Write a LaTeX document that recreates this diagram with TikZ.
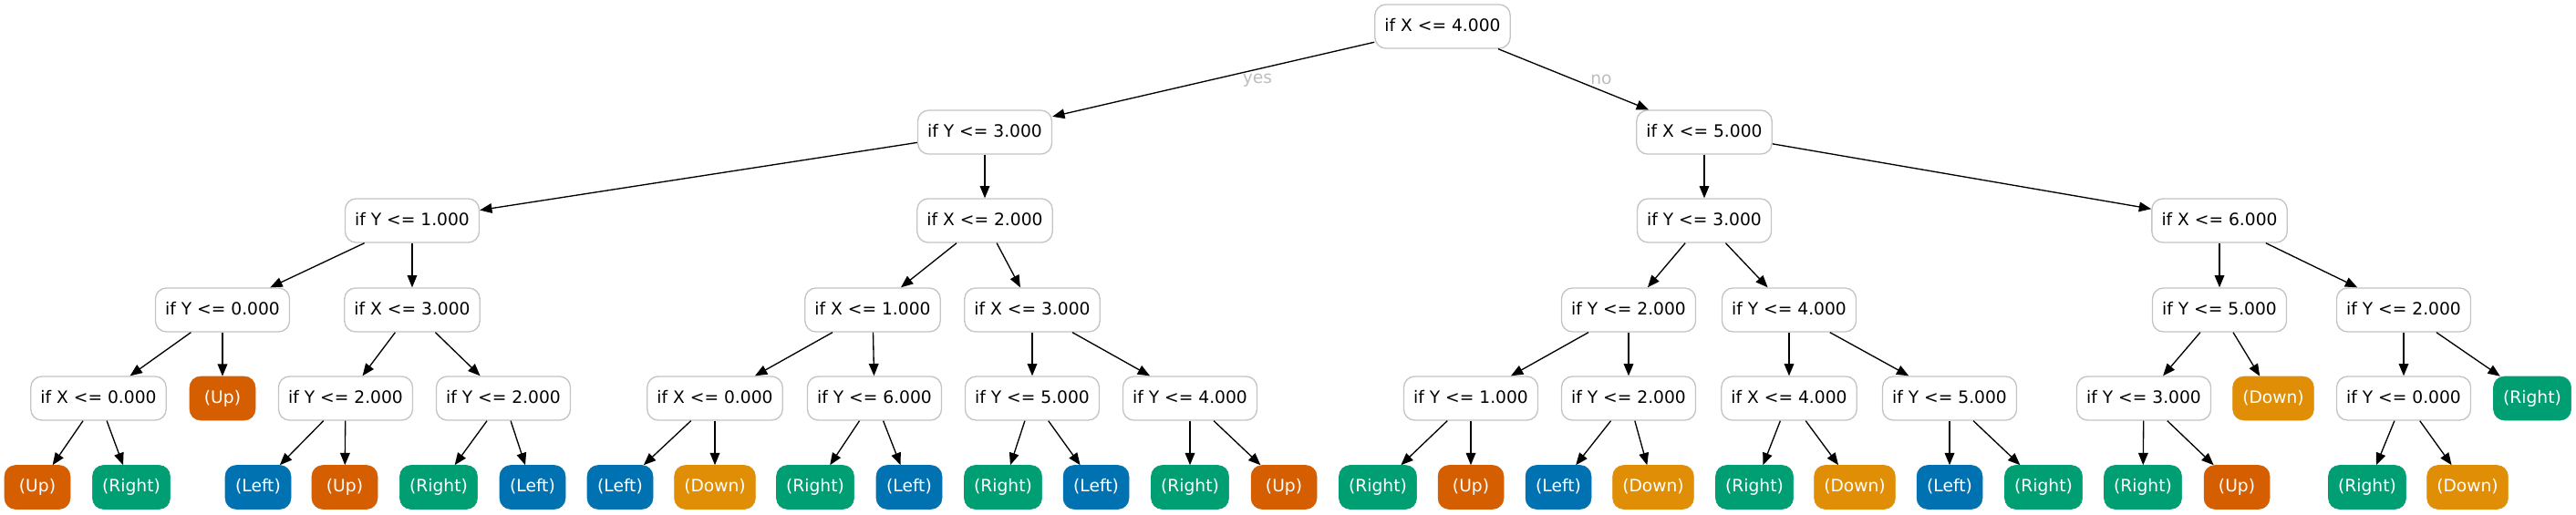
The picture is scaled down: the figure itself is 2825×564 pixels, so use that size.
\documentclass[tikz,border=0pt]{standalone}
\usepackage{fontspec}
\setmainfont{DejaVu Sans}
\usetikzlibrary{arrows.meta}
\definecolor{cUp}{HTML}{D55E00}
\definecolor{cRight}{HTML}{009E73}
\definecolor{cLeft}{HTML}{0072B2}
\definecolor{cDown}{HTML}{DF8E05}
\definecolor{boxgray}{HTML}{C4C4C4}
\definecolor{labgray}{HTML}{BDBDBD}
\begin{document}
\begin{tikzpicture}[x=0.75pt,y=-0.75pt,
  box/.style={rounded corners=9pt, minimum height=36pt, minimum width=54pt,
    inner xsep=8pt, inner ysep=0pt, text height=10.5pt, text depth=3pt,
    font=\fontsize{14pt}{17pt}\selectfont},
  dec/.style={box, draw=boxgray, line width=1pt, fill=white},
  lUp/.style={box, fill=cUp, draw=cUp, text=white},
  lRight/.style={box, fill=cRight, draw=cRight, text=white},
  lLeft/.style={box, fill=cLeft, draw=cLeft, text=white},
  lDown/.style={box, fill=cDown, draw=cDown, text=white},
  conn/.style={-{Triangle[length=10pt,width=8pt]}, line width=1pt, black},
  elab/.style={text=labgray, font=\fontsize{14pt}{17pt}\selectfont, inner sep=0pt}]
\useasboundingbox (0,0) rectangle (2825,564);

% level 0
\node[dec] (r) at (1582,29) {if X <= 4.000};
% level 1
\node[dec] (a1) at (1080,145) {if Y <= 3.000};
\node[dec] (b1) at (1869,145) {if X <= 5.000};
% level 2
\node[dec] (a2) at (452,242) {if Y <= 1.000};
\node[dec] (b2) at (1080,242) {if X <= 2.000};
\node[dec] (c2) at (1869,242) {if Y <= 3.000};
\node[dec] (d2) at (2434,242) {if X <= 6.000};
% level 3
\node[dec] (a3) at (244,340) {if Y <= 0.000};
\node[dec] (b3) at (452,340) {if X <= 3.000};
\node[dec] (c3) at (957,340) {if X <= 1.000};
\node[dec] (d3) at (1132,340) {if X <= 3.000};
\node[dec] (e3) at (1786,340) {if Y <= 2.000};
\node[dec] (f3) at (1962,340) {if Y <= 4.000};
\node[dec] (g3) at (2434,340) {if Y <= 5.000};
\node[dec] (h3) at (2636,340) {if Y <= 2.000};
% level 4
\node[dec] (a4) at (108,437) {if X <= 0.000};
\node[lUp] (b4) at (244,437) {(Up)};
\node[dec] (c4) at (379,437) {if Y <= 2.000};
\node[dec] (d4) at (552,437) {if Y <= 2.000};
\node[dec] (e4) at (784,437) {if X <= 0.000};
\node[dec] (f4) at (959,437) {if Y <= 6.000};
\node[dec] (g4) at (1132,437) {if Y <= 5.000};
\node[dec] (h4) at (1305,437) {if Y <= 4.000};
\node[dec] (i4) at (1613,437) {if Y <= 1.000};
\node[dec] (j4) at (1786,437) {if Y <= 2.000};
\node[dec] (k4) at (1962,437) {if X <= 4.000};
\node[dec] (l4) at (2138,437) {if Y <= 5.000};
\node[dec] (m4) at (2351,437) {if Y <= 3.000};
\node[lDown] (n4) at (2493,437) {(Down)};
\node[dec] (o4) at (2636,437) {if Y <= 0.000};
\node[lRight] (p4) at (2777,437) {(Right)};
% level 5
\node[lUp] (a5) at (41,534.5) {(Up)};
\node[lRight] (b5) at (144,534.5) {(Right)};
\node[lLeft] (c5) at (283,534.5) {(Left)};
\node[lUp] (d5) at (378,534.5) {(Up)};
\node[lRight] (e5) at (481,534.5) {(Right)};
\node[lLeft] (f5) at (584,534.5) {(Left)};
\node[lLeft] (g5) at (680,534.5) {(Left)};
\node[lDown] (h5) at (784,534.5) {(Down)};
\node[lRight] (i5) at (894,534.5) {(Right)};
\node[lLeft] (j5) at (997,534.5) {(Left)};
\node[lRight] (k5) at (1100,534.5) {(Right)};
\node[lLeft] (l5) at (1202,534.5) {(Left)};
\node[lRight] (m5) at (1305,534.5) {(Right)};
\node[lUp] (n5) at (1408,534.5) {(Up)};
\node[lRight] (o5) at (1511,534.5) {(Right)};
\node[lUp] (p5) at (1613,534.5) {(Up)};
\node[lLeft] (q5) at (1709,534.5) {(Left)};
\node[lDown] (r5) at (1813,534.5) {(Down)};
\node[lRight] (s5) at (1924,534.5) {(Right)};
\node[lDown] (t5) at (2034,534.5) {(Down)};
\node[lLeft] (u5) at (2138,534.5) {(Left)};
\node[lRight] (v5) at (2241,534.5) {(Right)};
\node[lRight] (w5) at (2350,534.5) {(Right)};
\node[lUp] (x5) at (2453,534.5) {(Up)};
\node[lRight] (y5) at (2596,534.5) {(Right)};
\node[lDown] (z5) at (2706,534.5) {(Down)};

% edge labels
\node[elab] (yes) at (1379,88) {yes};
\node[elab] (no) at (1756,87) {no};

% connectors
\draw[conn] (r) -- (a1);
\draw[conn] (r) -- (b1);
\draw[conn] (a1) -- (a2);
\draw[conn] (a1) -- (b2);
\draw[conn] (b1) -- (c2);
\draw[conn] (b1) -- (d2);
\draw[conn] (a2) -- (a3);
\draw[conn] (a2) -- (b3);
\draw[conn] (b2) -- (c3);
\draw[conn] (b2) -- (d3);
\draw[conn] (c2) -- (e3);
\draw[conn] (c2) -- (f3);
\draw[conn] (d2) -- (g3);
\draw[conn] (d2) -- (h3);
\draw[conn] (a3) -- (a4);
\draw[conn] (a3) -- (b4);
\draw[conn] (b3) -- (c4);
\draw[conn] (b3) -- (d4);
\draw[conn] (c3) -- (e4);
\draw[conn] (c3) -- (f4);
\draw[conn] (d3) -- (g4);
\draw[conn] (d3) -- (h4);
\draw[conn] (e3) -- (i4);
\draw[conn] (e3) -- (j4);
\draw[conn] (f3) -- (k4);
\draw[conn] (f3) -- (l4);
\draw[conn] (g3) -- (m4);
\draw[conn] (g3) -- (n4);
\draw[conn] (h3) -- (o4);
\draw[conn] (h3) -- (p4);
\draw[conn] (a4) -- (a5);
\draw[conn] (a4) -- (b5);
\draw[conn] (c4) -- (c5);
\draw[conn] (c4) -- (d5);
\draw[conn] (d4) -- (e5);
\draw[conn] (d4) -- (f5);
\draw[conn] (e4) -- (g5);
\draw[conn] (e4) -- (h5);
\draw[conn] (f4) -- (i5);
\draw[conn] (f4) -- (j5);
\draw[conn] (g4) -- (k5);
\draw[conn] (g4) -- (l5);
\draw[conn] (h4) -- (m5);
\draw[conn] (h4) -- (n5);
\draw[conn] (i4) -- (o5);
\draw[conn] (i4) -- (p5);
\draw[conn] (j4) -- (q5);
\draw[conn] (j4) -- (r5);
\draw[conn] (k4) -- (s5);
\draw[conn] (k4) -- (t5);
\draw[conn] (l4) -- (u5);
\draw[conn] (l4) -- (v5);
\draw[conn] (m4) -- (w5);
\draw[conn] (m4) -- (x5);
\draw[conn] (o4) -- (y5);
\draw[conn] (o4) -- (z5);
\end{tikzpicture}
\end{document}
